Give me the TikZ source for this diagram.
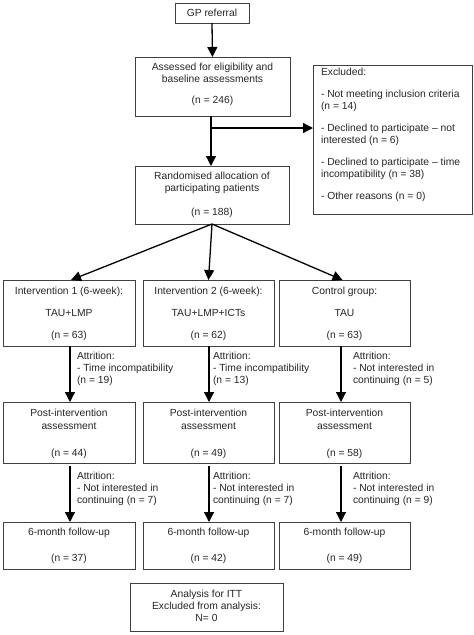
\documentclass[tikz,border=0pt]{standalone}
\usepackage{fontspec}
\setmainfont{Liberation Sans}
\usetikzlibrary{arrows.meta}
\begin{document}
\begin{tikzpicture}[x=1pt,y=-1pt,
  box/.style={draw=black!75,line width=1pt,inner sep=0pt,outer sep=0pt,fill=white},
  txt/.style={inner sep=0pt,outer sep=0pt,text=black!85,font=\fontsize{10.3}{12}\selectfont},
  arr/.style={draw=black,line width=1.3pt,-{Triangle[length=10pt,width=10pt]}}]
\useasboundingbox (0,0) rectangle (474,635);
% boxes
\node[box,txt,draw=black!75,minimum width=74pt,minimum height=20pt] (gp) at (212,13) {GP referral};
\node[box,minimum width=155pt,minimum height=59pt] (assess) at (212.5,86.5) {};
\node[box,minimum width=159pt,minimum height=149pt] (excl) at (392.5,139.5) {};
\node[box,minimum width=154pt,minimum height=58pt] (rand) at (212,195) {};
\node[box,minimum width=132pt,minimum height=66pt] (i1) at (69,313) {};
\node[box,minimum width=131pt,minimum height=66pt] (i2) at (208.5,313) {};
\node[box,minimum width=131pt,minimum height=66pt] (i3) at (344.5,313) {};
\node[box,minimum width=132pt,minimum height=61pt] (p1) at (69,432.5) {};
\node[box,minimum width=131pt,minimum height=61pt] (p2) at (208.5,432.5) {};
\node[box,minimum width=131pt,minimum height=61pt] (p3) at (344.5,432.5) {};
\node[box,minimum width=132pt,minimum height=47pt] (f1) at (69,545.5) {};
\node[box,minimum width=131pt,minimum height=47pt] (f2) at (208.5,545.5) {};
\node[box,minimum width=131pt,minimum height=47pt] (f3) at (344.5,545.5) {};
\node[box,minimum width=153pt,minimum height=48pt] (itt) at (206.5,607) {};
% box texts
\node[txt,align=center] (assessT) at (212.5,84) {Assessed for eligibility and\\baseline assessments\\[9pt](n = 246)};
\node[txt,align=left,anchor=west] (exclT) at (321,135) {Excluded:\\[10pt]- Not meeting inclusion criteria\\(n = 14)\\[10pt]- Declined to participate – not\\interested (n = 6)\\[10pt]- Declined to participate – time\\incompatibility (n = 38)\\[10pt]- Other reasons (n = 0)};
\node[txt,align=center] (randT) at (212,194.5) {Randomised allocation of\\participating patients\\[12pt](n = 188)};
\node[txt,align=center] (i1T) at (69,313.5) {Intervention 1 (6-week):\\[10pt]TAU+LMP\\[10pt](n = 63)};
\node[txt,align=center] (i2T) at (208.5,313.5) {Intervention 2 (6-week):\\[10pt]TAU+LMP+ICTs\\[10pt](n = 62)};
\node[txt,align=center] (i3T) at (344.5,313.5) {Control group:\\[10pt]TAU\\[10pt](n = 63)};
\node[txt,align=center] (p1T) at (69,434) {Post-intervention\\[1pt]assessment\\[15pt](n = 44)};
\node[txt,align=center] (p2T) at (208.5,434) {Post-intervention\\[1pt]assessment\\[15pt](n = 49)};
\node[txt,align=center] (p3T) at (344.5,434) {Post-intervention\\[1pt]assessment\\[15pt](n = 58)};
\node[txt,align=center] (f1T) at (69,546) {6-month follow-up\\[14pt](n = 37)};
\node[txt,align=center] (f2T) at (208.5,546) {6-month follow-up\\[14pt](n = 42)};
\node[txt,align=center] (f3T) at (344.5,546) {6-month follow-up\\[14pt](n = 49)};
\node[txt,align=center] (ittT) at (206.5,605.5) {Analysis for ITT\\Excluded from analysis:\\N= 0};
% attrition labels
\node[txt,align=left,anchor=west] (a1) at (77,369) {Attrition:\\- Time incompatibility\\(n = 19)};
\node[txt,align=left,anchor=west] (a2) at (213,369) {Attrition:\\- Time incompatibility\\(n = 13)};
\node[txt,align=left,anchor=west] (a3) at (353,369) {Attrition:\\- Not interested in\\continuing (n = 5)};
\node[txt,align=left,anchor=west] (b1) at (77,489) {Attrition:\\- Not interested in\\continuing (n = 7)};
\node[txt,align=left,anchor=west] (b2) at (213,489) {Attrition:\\- Not interested in\\continuing (n = 7)};
\node[txt,align=left,anchor=west] (b3) at (353,489) {Attrition:\\- Not interested in\\continuing (n = 9)};
% connectors
\coordinate (br) at (211,128);
\draw[arr] (gp.south) -- (assess.north);
\draw[arr] ([xshift=-1.5pt]assess.south) -- ([xshift=-1pt]rand.north);
\draw[arr] (br) -- (br -| excl.west);
\draw[arr] (rand.south) -- ([xshift=2pt]i1.north);
\draw[arr] (rand.south) -- (i2.north);
\draw[arr] (rand.south) -- ([xshift=-2pt]i3.north);
\draw[arr] ([xshift=1pt]i1.south) -- ([xshift=1pt]p1.north);
\draw[arr] ([xshift=0.5pt]i2.south) -- ([xshift=0.5pt]p2.north);
\draw[arr] ([xshift=-3.5pt]i3.south) -- ([xshift=-3.5pt]p3.north);
\draw[arr,shorten <=3pt] ([xshift=1pt]p1.south) -- ([xshift=1pt]f1.north);
\draw[arr,shorten <=3pt] ([xshift=0.5pt]p2.south) -- ([xshift=0.5pt]f2.north);
\draw[arr,shorten <=3pt] ([xshift=-3.5pt]p3.south) -- ([xshift=-3.5pt]f3.north);
\end{tikzpicture}
\end{document}
